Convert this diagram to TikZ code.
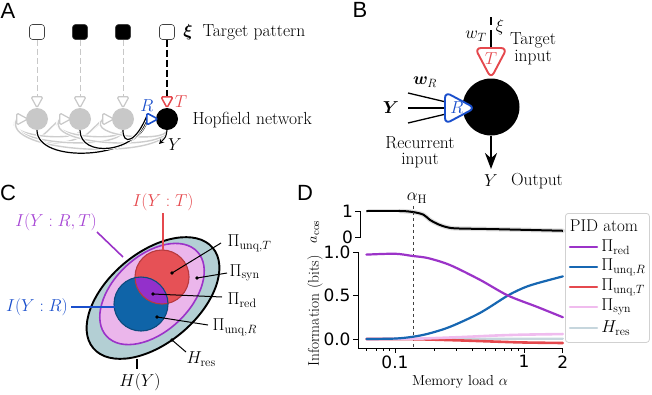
\documentclass[tikz,border=0pt]{standalone}
\usepackage{amsmath,amssymb,bm}
\usepackage{fontspec}
\newfontfamily\panelfont{Liberation Sans}
\newfontfamily\tickfont{DejaVu Sans}
\usepackage{tikz}
\usetikzlibrary{arrows.meta,positioning,backgrounds}

\definecolor{tred}{HTML}{E5484D}
\definecolor{rblue}{HTML}{1A4FCC}
\definecolor{cgray}{HTML}{C8C8C8}
\definecolor{lgray}{HTML}{CDCDCD}
\definecolor{cres}{HTML}{B3CFD4}
\definecolor{cpink}{HTML}{EBB6EB}
\definecolor{cpurple}{HTML}{9B33C8}
\definecolor{lpurple}{HTML}{A644D4}
\definecolor{cblue}{HTML}{0F64A8}
\definecolor{pblue}{HTML}{1767B2}
\definecolor{ppink}{HTML}{F0BCEE}
\definecolor{pres}{HTML}{C6D6DD}

\begin{document}
\begin{tikzpicture}[
  x=1pt,y=1pt,
  font=\fontsize{17.5}{19}\selectfont,
  panel/.style={font=\panelfont\fontsize{22}{24}\selectfont},
  patbox/.style={rectangle,rounded corners=3pt,draw=black!75,line width=0.6pt,minimum size=15pt,inner sep=0pt},
  cell/.style={circle,fill=cgray,minimum size=22pt,inner sep=0pt},
  syn/.style={line width=1.2pt,fill=white,rounded corners=1.5pt,line join=round},
  bigsyn/.style={line width=1.9pt,fill=white,rounded corners=6pt,line join=round},
  rec/.style={draw=lgray,line width=1.4pt,preaction={draw=white,line width=3pt}},
  recb/.style={draw=black,line width=1.2pt,preaction={draw=white,line width=3pt}},
  lead/.style={line width=1pt},
  twoline/.style={align=center,font=\fontsize{17.5}{16.5}\selectfont},
  ticklbl/.style={font=\tickfont\fontsize{17}{19}\selectfont,inner sep=2pt},
  leg/.style={font=\fontsize{17}{19}\selectfont},
  atom/.style={line width=2.2pt,line cap=round},
  arr/.style={-{Stealth[length=5pt,width=5pt]},line width=1pt}
]
\useasboundingbox (0,0) rectangle (652,-394);

\node[panel] (labA) at (8,-11) {A};
\node[panel] (labB) at (360,-10) {B};
\node[panel] (labC) at (8,-193) {C};
\node[panel] (labD) at (305,-193) {D};

% A
\foreach \n/\x/\f in {1/37/white,2/80/black,3/123/black,4/167/white}
  \node[patbox,fill=\f] (xi\n) at (\x,-32) {};
\node (xisym) at (188,-32) {$\bm{\xi}$};
\node[right] (tpat) at (199,-32) {Target pattern};
\foreach \n/\x in {1/37,2/80,3/123}
  \node[cell] (u\n) at (\x,-119) {};
\node[cell,fill=black] (u4) at (167,-119) {};
\foreach \n in {1,2,3,4}{
  \coordinate (tt\n) at ([yshift=11pt]u\n.north);
  \coordinate (r\n) at ([xshift=-9pt]u\n.west);
}
\foreach \n in {1,2,3}{
  \draw[cgray,line width=1pt,dash pattern=on 6pt off 3pt] (xi\n.south) -- (tt\n);
  \draw[syn,draw=cgray] ([xshift=-6pt]tt\n) -- ([xshift=6pt]tt\n) -- (u\n.north) -- cycle;
  \draw[syn,draw=cgray] ([yshift=6pt]r\n) -- ([xshift=11pt]r\n) -- ([yshift=-6pt]r\n) -- cycle;
}
\draw[line width=1.2pt,dash pattern=on 7pt off 3pt] (xi4.south) -- (tt4);
\draw[syn,draw=tred,line width=1.5pt] ([xshift=-6pt]tt4) -- ([xshift=6pt]tt4) -- (u4.north) -- cycle;
\draw[syn,draw=rblue,line width=1.6pt] ([yshift=6pt]r4) -- ([xshift=11pt]r4) -- ([yshift=-6pt]r4) -- cycle;
\begin{scope}[on background layer]
\foreach \i/\xa in {1/37,2/80,3/123,4/167}
  \foreach \j/\xb in {1/37,2/80,3/123}{
    \ifnum\i=\j\relax\else
      \pgfmathsetmacro\dep{-134-0.2*abs(\xa-\xb)}
      \draw[rec] (u\i.south) .. controls (\xa,\dep) and (\xb-38,\dep+6) .. (r\j);
    \fi
  }
\foreach \i/\xa/\dep/\sh in {1/37/-164/-3,2/80/-158/0,3/123/-146/3}
  \draw[recb] (u\i.south) .. controls (\xa,\dep) and (136,\dep+4) .. ([yshift=\sh pt]r4);
\end{scope}
\node[text=rblue] (rlab) at (147,-106) {$R$};
\node[text=tred] (tlab) at (181,-102) {$T$};
\coordinate (yA) at (159,-144);
\draw[arr] (u4.south) .. controls (166,-137) .. (yA);
\node (ylabA) at (175,-145) {$Y$};
\node[right] (hop) at (189,-120) {Hopfield network};

% B
\node[circle,fill=black,minimum size=57pt,inner sep=0pt] (soma) at (491,-107) {};
\coordinate (xiB) at (491,-17);
\coordinate (ttop) at (491,-48);
\draw[line width=1.2pt,dash pattern=on 8pt off 5pt on 20pt off 0pt] (xiB) -- (ttop);
\draw[bigsyn,draw=tred] (475,-48) -- (507,-48) -- (soma.north) -- cycle;
\node[text=tred] (tB) at (491,-59) {$T$};
\node (xilab) at (500,-27) {$\xi$};
\node (wT) at (476,-36) {$w_T$};
\node[twoline] (tin) at (533,-49) {Target\\input};
\coordinate (rin) at (446,-108);
\foreach \k/\y/\s in {1/-93/6,2/-108/0,3/-123/-6}{
  \coordinate (in\k) at (408,\y);
  \draw[line width=1.3pt] (in\k) -- ([yshift=\s pt]rin);
}
\draw[bigsyn,draw=rblue] (445,-92) -- (475,-108) -- (445,-124) -- cycle;
\node[text=rblue] (rB) at (457,-108) {$R$};
\node (wR) at (425,-82) {$\bm{w}_R$};
\node (YB) at (391,-108) {$\bm{Y}$};
\node[twoline] (recin) at (420,-152) {Recurrent\\input};
\coordinate (outB) at (491,-169);
\draw[line width=2.2pt,-{Stealth[length=16pt,width=12pt]}] (soma.south) -- (outB);
\node (YoutB) at (491,-181) {$Y$};
\node (outlab) at (537,-181) {Output};

% C
\coordinate (hc) at (153,-298);
\coordinate (ic) at (152,-294);
\coordinate (redc) at (162,-277);
\coordinate (bluec) at (141,-304);
\draw[line width=1.9pt,fill=cres,rotate around={40:(hc)}] (hc) ellipse [x radius=78,y radius=45];
\draw[line width=1.6pt,draw=cpurple,fill=cpink,rotate around={43:(ic)}] (ic) ellipse [x radius=62,y radius=38];
\fill[tred!95!white] (redc) circle (27);
\fill[cblue] (bluec) circle (27);
\begin{scope}
  \clip (redc) circle (27);
  \fill[cpurple!95!blue] (bluec) circle (27);
\end{scope}
\draw[line width=1.1pt,draw=tred!80!black] (redc) circle (27);
\draw[line width=1.1pt,draw=cblue!75!black] (bluec) circle (27);

\node[text=tred] (iyt) at (163,-202) {$I(Y:T)$};
\coordinate (iytend) at (163,-250);
\draw[line width=1.5pt,tred] (163,-213) -- (iytend);
\node[text=lpurple] (iyrt) at (56,-222) {$I(Y:R,T)$};
\coordinate (iyrtend) at (123,-257);
\draw[line width=1.6pt,cpurple] (97,-232) -- (iyrtend);
\node[text=rblue] (iyr) at (37,-307) {$I(Y:R)$};
\coordinate (iyrend) at (115,-307);
\draw[line width=1.8pt,rblue] (iyr.east) -- (iyrend);

\node[anchor=west] (punqT) at (224,-243) {$\Pi_{\mathrm{unq},T}$};
\node[anchor=west] (psyn) at (226,-273) {$\Pi_{\mathrm{syn}}$};
\node[anchor=west] (pred) at (224,-300) {$\Pi_{\mathrm{red}}$};
\node[anchor=west] (punqR) at (209,-327) {$\Pi_{\mathrm{unq},R}$};
\node[anchor=west] (hres) at (183,-359) {$H_{\mathrm{res}}$};
\node (hy) at (140,-382) {$H(Y)$};
\foreach \p/\x/\y/\e in {punqT/172/-273/{(221,-243)},psyn/197/-278/{(227,-273)},pred/153/-294/{(222,-297)},punqR/157/-317/{(208,-325)},hres/172/-340/{(186,-352)}}{
  \coordinate (d\p) at (\x,\y);
  \fill (d\p) circle (1.8);
  \draw[lead] (d\p) -- \e;
}
\coordinate (hyt) at (137,-359);
\draw[line width=1.3pt] (hyt) -- (137,-369);

% D
\begin{scope}[shift={(524,-237)},x=129pt,y=26pt]
  \draw[line width=0.9pt] (-1.31,1) -- (-1.271,1) -- (-1.271,0) -- (-1.31,0);
  \node[left,ticklbl] (ta1) at (-1.31,1) {1};
  \node[left,ticklbl] (ta0) at (-1.31,0) {0};
  \draw[gray!25,line width=4.5pt,line cap=round] plot[smooth] coordinates {(-0.9586,1) (-0.8601,0.96) (-0.78,0.86) (-0.73,0.66) (-0.67,0.5) (-0.6,0.38) (-0.52,0.33) (-0.2076,0.30) (0.301,0.24)};
  \draw[line width=2pt] plot[smooth] coordinates {(-1.2218,1) (-0.9586,1) (-0.8601,0.96) (-0.78,0.86) (-0.73,0.66) (-0.67,0.5) (-0.6,0.38) (-0.52,0.33) (-0.2076,0.30) (0.301,0.24)};
\end{scope}
\begin{scope}[shift={(524,-339)},x=129pt,y=87pt]
  \draw[line width=0.9pt] (-1.2868,1) -- (-1.2868,-0.1034) -- (0.301,-0.1034);
  \foreach \i/\v/\t in {0/0/0.0,1/0.5/0.5,2/1/1.0}
    \draw[line width=0.9pt] (-1.2868,\v) -- (-1.3256,\v) node[left,ticklbl] (yt\i) {\t};
  \foreach \i/\l/\t in {1/-1/0.1,2/0/1,3/0.30103/2}
    \draw[line width=0.9pt] (\l,-0.1034) -- ++(0,-5pt) node[below,ticklbl] (xt\i) {\t};
  \foreach \m in {0.06,0.07,0.08,0.09,0.2,0.3,0.4,0.5,0.6,0.7,0.8,0.9}
    \draw[line width=0.7pt] ({log10(\m)},-0.1034) -- ++(0,-3pt);
  \draw[dashed,line width=0.7pt,black!75] (-0.855,1.53) -- (-0.855,-0.1034);
  \draw[atom,pres] plot coordinates {(-1.2218,0) (0.301,0.004)};
  \draw[atom,tred,line width=2.6pt] plot[smooth] coordinates {(-1.2218,0) (-0.8665,-0.002) (-0.5229,-0.015) (-0.2218,-0.03) (0,-0.04) (0.301,-0.046)};
  \draw[atom,ppink,line width=2.6pt] plot[smooth] coordinates {(-1.2218,0) (-0.8665,0.003) (-0.5229,0.02) (-0.2218,0.04) (0,0.05) (0.301,0.057)};
  \draw[atom,pblue] plot[smooth] coordinates {(-1.2218,0) (-1,0.005) (-0.8665,0.025) (-0.7447,0.06) (-0.5735,0.14) (-0.341,0.30) (-0.1249,0.50) (0,0.59) (0.1004,0.64) (0.301,0.72)};
  \draw[atom,cpurple] plot[smooth] coordinates {(-1.2218,0.97) (-1,0.98) (-0.8665,0.955) (-0.7447,0.93) (-0.5735,0.85) (-0.341,0.68) (-0.1249,0.50) (0.1004,0.37) (0.301,0.25)};
\end{scope}
\node (alphaH) at (417,-198) {$\alpha_{\mathrm{H}}$};
\node[rotate=90,font=\fontsize{15.5}{17}\selectfont] (ylab) at (315,-311) {Information (bits)};
\node[rotate=90,font=\fontsize{15.5}{17}\selectfont] (acos) at (315,-232) {$a_{\mathrm{cos}}$};
\node[font=\fontsize{14.5}{16}\selectfont] (xlab) at (460,-382) {Memory load $\alpha$};

\node[draw=black!18,line width=0.8pt,rounded corners=3pt,fill=white,minimum width=84pt,minimum height=129pt,anchor=north west] (legbox) at (565,-213) {};
\node[leg] (legtitle) at (604,-226) {PID atom};
\foreach \i/\y/\c/\t in {1/247/cpurple/{$\Pi_{\mathrm{red}}$},2/267/pblue/{$\Pi_{\mathrm{unq},R}$},3/287/tred/{$\Pi_{\mathrm{unq},T}$},4/307/ppink/{$\Pi_{\mathrm{syn}}$},5/328/pres/{$H_{\mathrm{res}}$}}
  \draw[atom,\c] (570,-\y) -- (597,-\y) node[right,leg,text=black] (leg\i) {\t};
\end{tikzpicture}
\end{document}
